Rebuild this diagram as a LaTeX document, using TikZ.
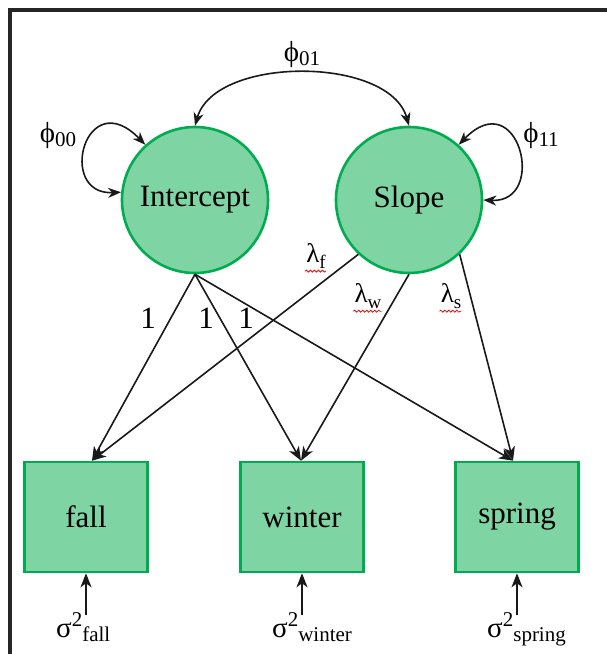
\documentclass[tikz,border=0pt]{standalone}
\usepackage{fontspec}
\setmainfont{Liberation Serif}
\usetikzlibrary{arrows.meta,positioning,calc,decorations.pathmorphing}
\definecolor{sgreen}{RGB}{0,172,80}
\definecolor{sfill}{RGB}{127,212,164}
\newcommand{\lowtext}[1]{\raisebox{-0.3ex}{\fontsize{21}{24}\selectfont #1}}
\newcommand{\hightext}[1]{\raisebox{0.8ex}{\fontsize{21}{24}\selectfont #1}}
\newcommand{\lamsub}[1]{\raisebox{-0.55ex}{\fontsize{19}{21}\selectfont #1}}
\tikzset{
 latent/.style={circle,draw=sgreen,fill=sfill,line width=2.6pt,minimum size=146pt,inner sep=0pt,font=\fontsize{31}{36}\selectfont},
 observed/.style={rectangle,draw=sgreen,fill=sfill,line width=2.6pt,minimum width=123pt,minimum height=110pt,inner sep=0pt,font=\fontsize{31}{36}\selectfont},
 load/.style={-{Stealth[length=14pt,width=11pt,inset=4pt]},line width=1.6pt,draw=black!90},
 covar/.style={{Stealth[length=13pt,width=10pt,inset=4pt]}-{Stealth[length=13pt,width=10pt,inset=4pt]},line width=1.6pt,draw=black!90},
 coef/.style={font=\fontsize{31}{36}\selectfont,inner sep=0pt},
 varlab/.style={font=\fontsize{29}{32}\selectfont,inner sep=0pt},
 lam/.style={font=\fontsize{27}{30}\selectfont,inner sep=0pt},
 spell/.style={draw=red,line width=0.8pt,decorate,decoration={snake,amplitude=1pt,segment length=4pt}},
}
\begin{document}
\begin{tikzpicture}[x=1pt,y=1pt]
\useasboundingbox (0,0) rectangle (607,654);
% frame
\draw [line width=3.5pt,black!85] (10,0) -- (10,644) -- (607,644);
% growth factors
\node[latent] (icept) at (195,454) {Intercept};
\node[latent] (slope) at (409,454) {Slope};
% seasons
\node[observed] (fall) at (86,137) {fall};
\node[observed] (winter) at (302,137) {winter};
\node[observed] (spring) at (517,137) {spring};
% variances and covariance of the factors
\draw[covar] (icept.north) .. controls +(20,70) and +(-20,70) .. (slope.north);
\node[varlab] (p01) at (302,599) {ϕ\lowtext{01}};
\draw[covar] (icept.174) .. controls +(-65,-3) and +(-60,62) .. (icept.132);
\node[varlab] (p00) at (58,518) {ϕ\lowtext{00}};
\draw[covar] (slope.0) .. controls +(65,-3) and +(60,62) .. (slope.48);
\node[varlab] (p11) at (541,518) {ϕ\lowtext{11}};
% loadings
\draw[load] (icept.south) -- ([xshift=6pt]fall.north);
\draw[load] (icept.south) -- ([xshift=-1pt]winter.north);
\draw[load] (icept.south) -- ([xshift=-4pt]spring.north);
\draw[load] (slope.227) -- ([xshift=6pt]fall.north);
\draw[load] (slope.south) -- ([xshift=-1pt]winter.north);
\draw[load] (slope.313) -- ([xshift=-4pt]spring.north);
\node[coef] (one1) at (148,336) {1};
\node[coef] (one2) at (206,336) {1};
\node[coef] (one3) at (246,336) {1};
\node[lam] (lf) at (316,398) {λ\lamsub{f}};
\node[lam] (lw) at (368,358) {λ\lamsub{w}};
\node[lam] (ls) at (451,358) {λ\lamsub{s}};
\draw[spell] ([xshift=-1pt,yshift=-2pt]lf.south west) -- ([yshift=-2pt]lf.south east);
\draw[spell] ([xshift=-1pt,yshift=-2pt]lw.south west) -- ([yshift=-2pt]lw.south east);
\draw[spell] ([xshift=-1pt,yshift=-2pt]ls.south west) -- ([yshift=-2pt]ls.south east);
% residual variances
\foreach \obs/\name in {fall/fall,winter/winter,spring/spring}{
  \coordinate (e\obs) at ([yshift=-42pt]\obs.south);
  \draw[load] (e\obs) -- (\obs.south);
  \node[varlab,anchor=base west] (s\obs) at ([xshift=-30pt,yshift=-22pt]e\obs) {σ\hightext{2}\lowtext{\name}};
}
\end{tikzpicture}
\end{document}
